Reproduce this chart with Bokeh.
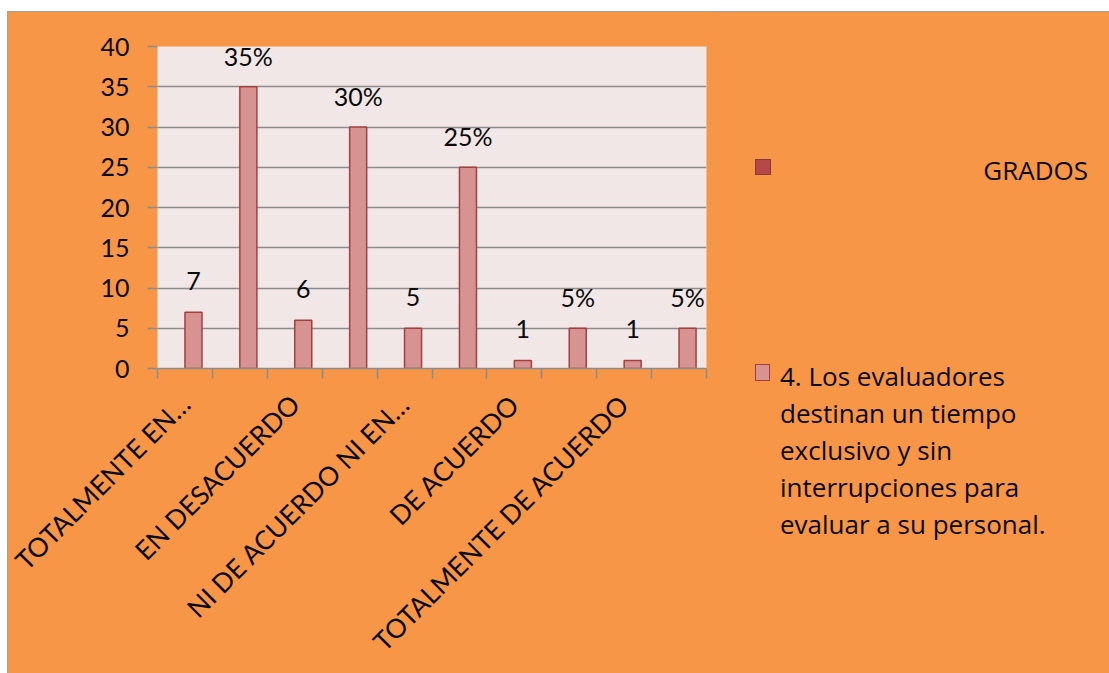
import math
from bokeh.plotting import figure
from bokeh.layouts import row
from bokeh.models import Range1d, FixedTicker, ColumnDataSource, Div
from bokeh.core.properties import value
from bokeh.embed import file_html
from bokeh.resources import INLINE

# ---- data ----
categories = ["TOTALMENTE EN DESACUERDO", "EN DESACUERDO",
              "NI DE ACUERDO NI EN DESACUERDO", "DE ACUERDO", "TOTALMENTE DE ACUERDO"]
tick_labels = ["TOTALMENTE EN\u2026", "EN DESACUERDO", "NI DE ACUERDO NI EN\u2026",
               "DE ACUERDO", "TOTALMENTE DE ACUERDO"]
frecuencia = [7, 6, 5, 1, 1]
porcentaje = [35, 30, 25, 5, 5]
y_ticks = [0, 5, 10, 15, 20, 25, 30, 35, 40]
legend_grados = "GRADOS"
legend_serie = ["4. Los evaluadores", "destinan un tiempo", "exclusivo y sin",
                "interrupciones para", "evaluar a su personal."]

FONT = "Lato"
LEG_FONT = "Open Sans"
ORANGE = "#F79646"
TXT = "#0A0A0A"
BAR_FILL = "#D69392"
BAR_LINE = "#A3403E"

# interleave frequency / percentage slots (10 category slots)
slot_values, slot_text = [], []
for f, pc in zip(frecuencia, porcentaje):
    slot_values += [f, pc]
    slot_text += [str(f), f"{pc}%"]
n_slots = len(slot_values)
bar_w = 0.31
slot_x = [i + 0.5 + bar_w / 2 for i in range(n_slots)]
src = ColumnDataSource(dict(x=slot_x, top=slot_values, label=slot_text))

p = figure(width=712, height=700, x_range=Range1d(0, n_slots), y_range=Range1d(0, 40),
           output_backend="svg", toolbar_location=None,
           min_border_left=149, min_border_right=14, min_border_top=34, min_border_bottom=344)
p.background_fill_color = "#F2E7E7"
p.border_fill_color = ORANGE
p.outline_line_color = None

p.vbar(x="x", top="top", width=bar_w, bottom=0, source=src,
       fill_color=BAR_FILL, line_color=BAR_LINE, line_width=1.5)
p.text(x="x", y="top", text="label", source=src, text_align="center",
       text_baseline="alphabetic", y_offset=-31, text_font=value(FONT),
       text_font_size="25px", text_color=TXT)

p.xgrid.visible = False
p.ygrid.grid_line_color = "#8C8C8C"
p.ygrid.grid_line_width = 1.5
p.ygrid.ticker = FixedTicker(ticks=y_ticks)

ya = p.yaxis[0]
ya.ticker = FixedTicker(ticks=y_ticks)
ya.axis_line_color = None
ya.major_tick_line_color = "#8C8C8C"
ya.major_tick_line_width = 1.5
ya.major_tick_out = 10
ya.major_tick_in = 0
ya.minor_tick_line_color = None
ya.major_label_standoff = 18
ya.major_label_text_font = FONT
ya.major_label_text_font_size = "25px"
ya.major_label_text_color = TXT

xa = p.xaxis[0]
label_pos = [2 * i + 0.5 for i in range(len(tick_labels))]
xa.ticker = FixedTicker(ticks=label_pos, minor_ticks=list(range(n_slots + 1)))
xa.major_label_overrides = {lp: t for lp, t in zip(label_pos, tick_labels)}
xa.major_tick_line_color = None
xa.major_tick_out = 6
xa.minor_tick_line_color = "#8C8C8C"
xa.minor_tick_line_width = 1.5
xa.minor_tick_out = 10
xa.minor_tick_in = 0
xa.axis_line_color = "#8C8C8C"
xa.axis_line_width = 1.5
xa.major_label_orientation = math.pi / 4
xa.major_label_standoff = 21
xa.major_label_text_font = FONT
xa.major_label_text_font_size = "26.5px"
xa.major_label_text_color = TXT

# ---- legend panel (HTML) ----
lines_html = "<br>".join(legend_serie)
legend_html = f"""
<div style="position:relative;width:389px;height:661px;background:{ORANGE};
            font-family:'{LEG_FONT}';font-size:26px;color:{TXT};">
  <div style="position:absolute;left:35px;top:147px;width:16px;height:16px;
              background:#B5494A;border:1px solid #8E3735;"></div>
  <div style="position:absolute;right:21px;top:143px;line-height:30px;">{legend_grados}</div>
  <div style="position:absolute;left:35px;top:352px;width:15px;height:17px;
              background:{BAR_FILL};border:1.5px solid {BAR_LINE};"></div>
  <div style="position:absolute;left:60px;top:346px;line-height:37px;white-space:nowrap;">{lines_html}</div>
</div>
"""
legend_div = Div(text=legend_html, width=389, height=661, margin=0,
                 styles={"background": ORANGE})

layout = row(p, legend_div, margin=(11, 0, 0, 7),
             styles={"border-top": "1px solid #A0A0A0", "border-left": "1px solid #A0A0A0",
                     "background": ORANGE})

open("out.html", "w").write(file_html(layout, INLINE))
